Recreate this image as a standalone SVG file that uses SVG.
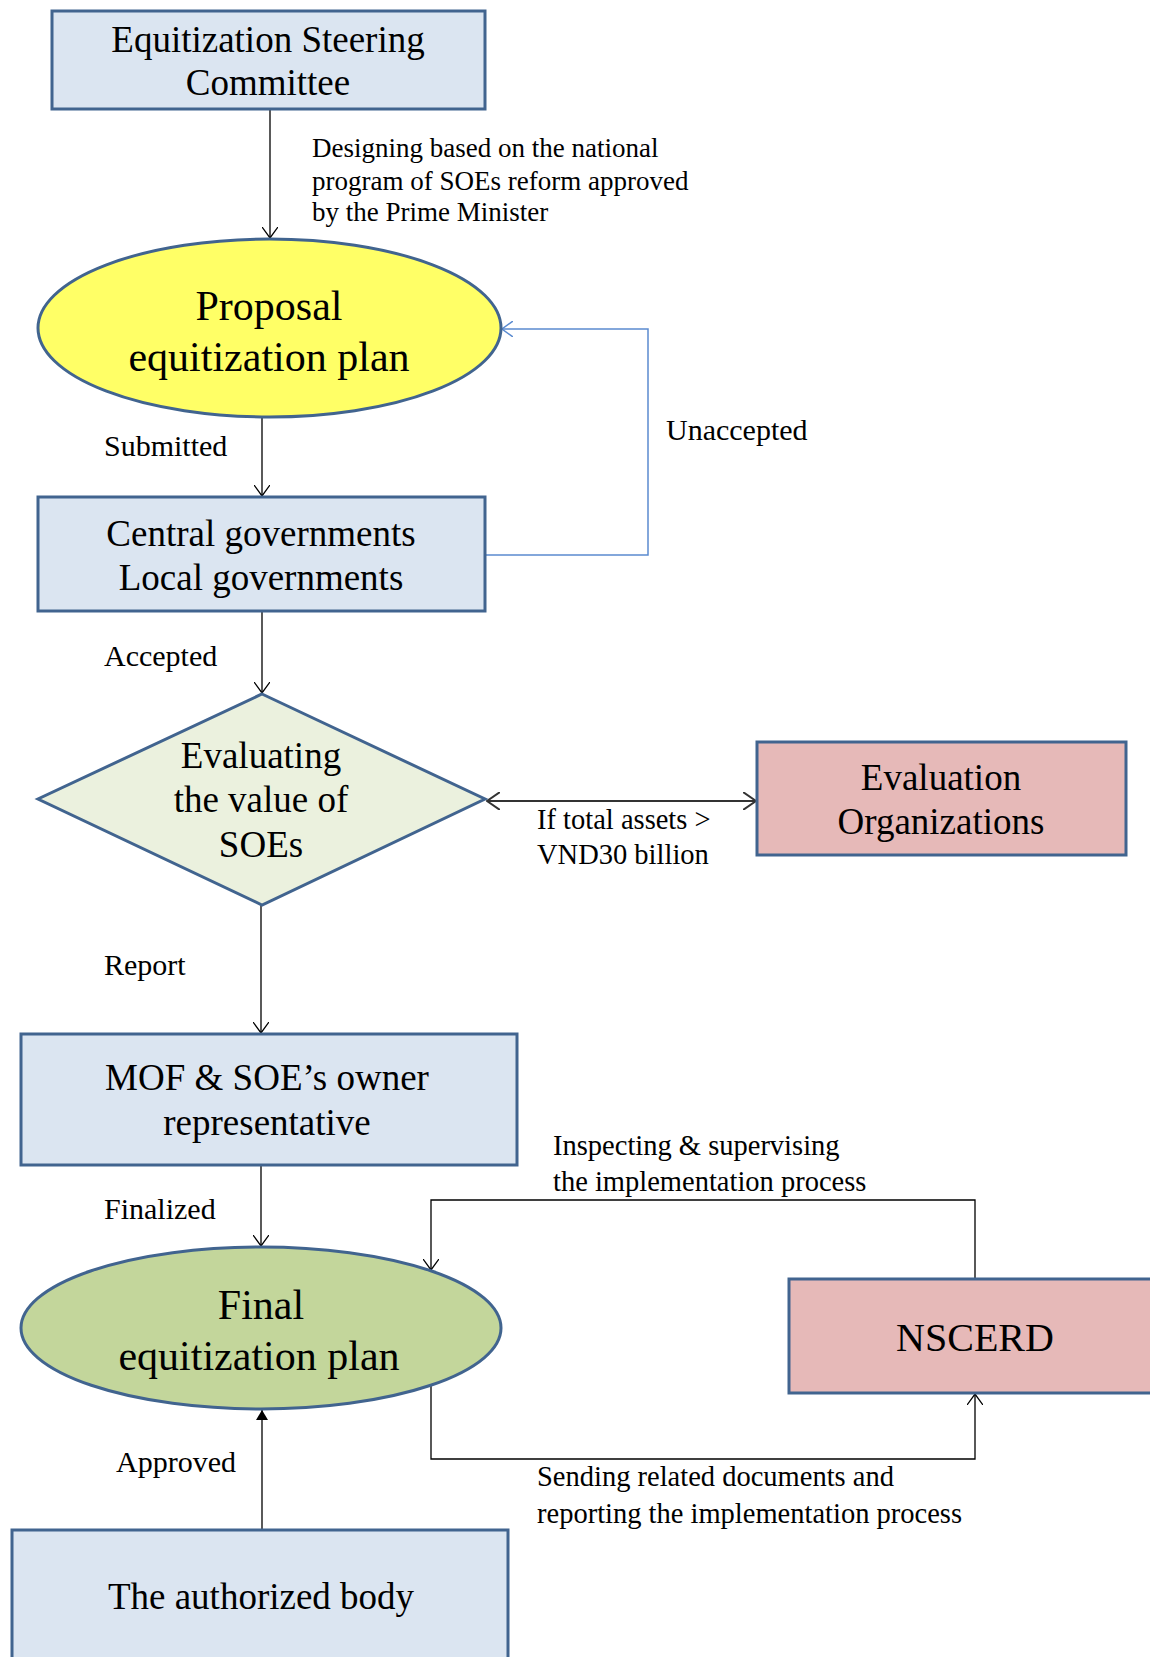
<svg xmlns="http://www.w3.org/2000/svg" width="1150" height="1657" viewBox="0 0 1150 1657">
  <style>
    .node { stroke: #41648f; stroke-width: 3; }
    .blue { fill: #dbe5f1; }
    .pink { fill: #e6b9b8; }
    .yellow { fill: #ffff66; }
    .green { fill: #c3d69b; }
    .sage { fill: #ebf1de; }
    .t { font-family: "Liberation Serif", "Times New Roman", serif; fill: #000; text-anchor: middle; }
    .big { font-size: 37px; }
    .huge { font-size: 42px; }
    .lbl { font-family: "Liberation Serif", "Times New Roman", serif; fill: #000; font-size: 28.5px; }
    .word { font-size: 30px; }
    .small { font-size: 27px; }
    .wire { fill: none; stroke: #000; stroke-width: 1.3; }
    .wire-blue { fill: none; stroke: #5b8bd0; stroke-width: 1.5; }
    .wire-bold { fill: none; stroke: #333; stroke-width: 2.2; }
  </style>
  <defs>
    <marker id="arr" viewBox="0 0 12 16" refX="11" refY="8" markerWidth="12" markerHeight="16" orient="auto" markerUnits="userSpaceOnUse">
      <path d="M0,0 L11,8 L0,16" fill="none" stroke="#000" stroke-width="1.3"/>
    </marker>
    <marker id="arr-blue" viewBox="0 0 12 16" refX="11" refY="8" markerWidth="12" markerHeight="16" orient="auto" markerUnits="userSpaceOnUse">
      <path d="M0,0 L11,8 L0,16" fill="none" stroke="#5b8bd0" stroke-width="1.5"/>
    </marker>
    <marker id="arr-bold" viewBox="0 0 14 18" refX="13" refY="9" markerWidth="14" markerHeight="18" orient="auto-start-reverse" markerUnits="userSpaceOnUse">
      <path d="M0,0 L13,9 L0,18" fill="none" stroke="#333" stroke-width="2"/>
    </marker>
    <marker id="arr-solid" viewBox="0 0 10 12" refX="10" refY="6" markerWidth="10" markerHeight="12" orient="auto" markerUnits="userSpaceOnUse">
      <path d="M0,0 L10,6 L0,12 Z" fill="#000"/>
    </marker>
  </defs>

  <rect width="1150" height="1657" fill="#fff"/>

  <!-- connectors and their labels -->
  <g id="connectors">
    <line class="wire" x1="270" y1="109" x2="270" y2="238" marker-end="url(#arr)"/>
    <line class="wire" x1="262" y1="417" x2="262" y2="496" marker-end="url(#arr)"/>
    <polyline class="wire-blue" points="485,555 648,555 648,329 502,329" marker-end="url(#arr-blue)"/>
    <line class="wire" x1="262" y1="611" x2="262" y2="693" marker-end="url(#arr)"/>
    <line class="wire-bold" x1="487" y1="801" x2="756" y2="801" marker-start="url(#arr-bold)" marker-end="url(#arr-bold)"/>
    <line class="wire" x1="261" y1="905" x2="261" y2="1033" marker-end="url(#arr)"/>
    <line class="wire" x1="261" y1="1165" x2="261" y2="1246" marker-end="url(#arr)"/>
    <line class="wire" x1="262" y1="1529" x2="262" y2="1410" marker-end="url(#arr-solid)"/>
    <polyline class="wire" points="975,1279 975,1200 431,1200 431,1270" marker-end="url(#arr)"/>
    <polyline class="wire" points="431,1386 431,1459 975,1459 975,1394" marker-end="url(#arr)"/>

    <text class="lbl small" x="312" y="157">Designing based on the national</text>
    <text class="lbl small" x="312" y="190">program of SOEs reform approved</text>
    <text class="lbl small" x="312" y="221">by the Prime Minister</text>
    <text class="lbl word" x="104" y="456">Submitted</text>
    <text class="lbl word" x="666" y="440">Unaccepted</text>
    <text class="lbl word" x="104" y="666">Accepted</text>
    <text class="lbl" x="537" y="829">If total assets &gt;</text>
    <text class="lbl" x="537" y="864">VND30 billion</text>
    <text class="lbl word" x="104" y="975">Report</text>
    <text class="lbl" x="553" y="1155">Inspecting &amp; supervising</text>
    <text class="lbl" x="553" y="1191">the implementation process</text>
    <text class="lbl word" x="104" y="1219">Finalized</text>
    <text class="lbl word" x="116" y="1472">Approved</text>
    <text class="lbl" x="537" y="1486">Sending related documents and</text>
    <text class="lbl" x="537" y="1523">reporting the implementation process</text>
  </g>

  <g id="steering-committee">
    <rect class="node blue" x="52" y="11" width="433" height="98"/>
    <text class="t big" x="268" y="52">Equitization Steering</text>
    <text class="t big" x="268" y="95">Committee</text>
  </g>

  <g id="proposal-plan">
    <ellipse class="node yellow" cx="269.5" cy="328" rx="231.5" ry="89"/>
    <text class="t huge" x="269" y="320">Proposal</text>
    <text class="t huge" x="269" y="371">equitization plan</text>
  </g>

  <g id="governments">
    <rect class="node blue" x="38" y="497" width="447" height="114"/>
    <text class="t big" x="261" y="546">Central governments</text>
    <text class="t big" x="261" y="590">Local governments</text>
  </g>

  <g id="evaluating">
    <polygon class="node sage" points="262,694 485,799 262,905 38,799"/>
    <text class="t big" x="261" y="768">Evaluating</text>
    <text class="t big" x="261" y="812">the value of</text>
    <text class="t big" x="261" y="857">SOEs</text>
  </g>

  <g id="evaluation-orgs">
    <rect class="node pink" x="757" y="742" width="369" height="113"/>
    <text class="t big" x="941" y="790">Evaluation</text>
    <text class="t big" x="941" y="834">Organizations</text>
  </g>

  <g id="mof">
    <rect class="node blue" x="21" y="1034" width="496" height="131"/>
    <text class="t big" x="267" y="1090">MOF &amp; SOE’s owner</text>
    <text class="t big" x="267" y="1135">representative</text>
  </g>

  <g id="final-plan">
    <ellipse class="node green" cx="261" cy="1328" rx="240" ry="81"/>
    <text class="t huge" x="261" y="1319">Final</text>
    <text class="t huge" x="259" y="1370">equitization plan</text>
  </g>

  <g id="nscerd">
    <rect class="node pink" x="789" y="1279" width="380" height="114"/>
    <text class="t" font-size="40" x="975" y="1351">NSCERD</text>
  </g>

  <g id="authorized-body">
    <rect class="node blue" x="12" y="1530" width="496" height="150"/>
    <text class="t big" x="261" y="1609">The authorized body</text>
  </g>
</svg>
